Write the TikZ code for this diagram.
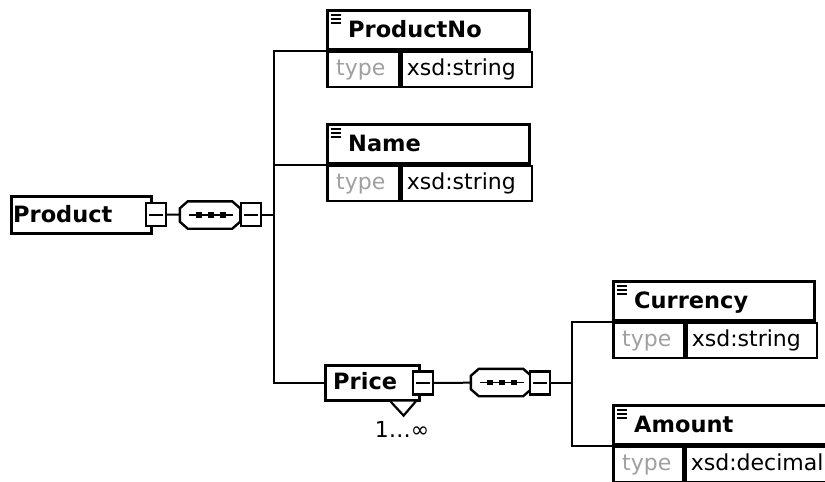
\documentclass[tikz,border=0pt]{standalone}
\usepackage{fontspec}
\setmainfont{DejaVu Sans}
\usetikzlibrary{calc}
\definecolor{typegrey}{RGB}{160,160,160}
\tikzset{
  box/.style={draw, line width=2.6pt, fill=white, rectangle, inner sep=0pt, anchor=north west},
  lbl/.style={inner sep=0pt, anchor=base west, font=\fontsize{22.5}{26}\selectfont\bfseries},
  txt/.style={inner sep=0pt, anchor=base west, font=\fontsize{22}{26}\selectfont},
  minusbox/.style={draw, line width=2.2pt, fill=white, rectangle, inner sep=0pt,
    minimum width=20pt, minimum height=23pt, path picture={
      \draw[line width=2pt] ([xshift=3pt]path picture bounding box.west) -- ([xshift=-3pt]path picture bounding box.east);}},
  seqbox/.style={rectangle, inner sep=0pt, minimum width=60pt, minimum height=27pt},
  conn/.style={line width=2pt},
}
% element box with a type row
\newcommand\xelem[7]{% id, x, y(top), width, type cell width, name, type
  \node[box, minimum width=#4pt, minimum height=39pt] (#1) at (#2,#3) {};
  \node[box, minimum width=#5pt, minimum height=35pt] (#1t) at ($(#1.south west)$) {};
  \node[box, minimum width={#4pt-#5pt}, minimum height=35pt] (#1v) at ($(#1t.north east)$) {};
  \draw[line width=1.4pt] ($(#1.north west)+(5,6)$) -- +(10,0) ($(#1.north west)+(5,10)$) -- +(10,0) ($(#1.north west)+(5,14)$) -- +(10,0);
  \node[lbl] (#1l) at ($(#1.north west)+(22,28.5)$) {#6};
  \node[txt, text=typegrey] (#1tl) at ($(#1t.north west)+(10,25)$) {type};
  \node[txt] (#1vl) at ($(#1v.north west)+(6,25)$) {#7};
}
% sequence compositor: chamfered outline with a line of three dots
\newcommand\seqdraw[1]{%
  \draw[line width=2.4pt, fill=white]
    ($(#1.north west)+(8,0)$) -- ($(#1.north east)+(-8,0)$) -- ($(#1.north east)+(0,7)$)
    -- ($(#1.south east)+(0,-7)$) -- ($(#1.south east)+(-8,0)$) -- ($(#1.south west)+(8,0)$)
    -- ($(#1.south west)+(0,-7)$) -- ($(#1.north west)+(0,7)$) -- cycle;
  \draw[line width=1.6pt] ($(#1.west)+(9,0)$) -- ($(#1.east)+(-7,0)$);
  \foreach \dx in {-12,0,12} \fill ($(#1.center)+(\dx+1,0)$) +(-2.8,-2.8) rectangle +(2.8,2.8);
}
\begin{document}
\begin{tikzpicture}[x=1pt,y=-1pt]
\clip (0,0) rectangle (825,482);
\fill[white] (0,0) rectangle (825,482);

% root element
\node[box, minimum width=140pt, minimum height=37pt] (product) at (10,195) {};
\node[lbl] (productl) at ($(product.north west)+(3,27)$) {Product};
\node[minusbox] (pm) at (156,214.5) {};
\node[seqbox] (s1) at (210,215) {};
\seqdraw{s1}
\node[minusbox] (s1m) at (251,214.5) {};
\coordinate (v1) at (274,214.5);

% children
\xelem{pn}{326}{9}{202}{72}{ProductNo}{xsd:string}
\xelem{nm}{326}{123}{202}{72}{Name}{xsd:string}

\node[box, minimum width=94pt, minimum height=35pt] (price) at (324,364) {};
\node[lbl] (pricel) at ($(price.north west)+(9,25)$) {Price};
\draw[line width=2.2pt, fill=white] ($(price.south east)+(-30,0)$) coordinate (tA)
  -- ($(price.south east)+(-17,14)$) coordinate (tB) -- ($(price.south east)+(-5,0)$) coordinate (tC);
\node[txt, anchor=base] (card) at (402,437) {1…∞};
\node[minusbox] (prm) at (423,383) {};
\node[seqbox] (s2) at (501,382.5) {};
\seqdraw{s2}
\node[minusbox] (s2m) at (540,383) {};
\coordinate (v2) at (572,383);

\xelem{cur}{612}{280}{201}{71}{Currency}{xsd:string}
\xelem{amt}{612}{404}{230}{70}{Amount}{xsd:decimal}

% connectors
\draw[conn] (pm) -- (s1);
\draw[conn] (s1m) -- (v1);
\draw[conn] (pnt.north west) -| (v1);
\draw[conn] (nmt.north west) -- (nmt.north west -| v1);
\draw[conn] (price.west) -| (v1);
\draw[conn] (prm) -- (s2);
\draw[conn] (s2m) -- (v2);
\draw[conn] (curt.north west) -| (v2);
\draw[conn] (amtt.north west) -| (v2);
\end{tikzpicture}
\end{document}
